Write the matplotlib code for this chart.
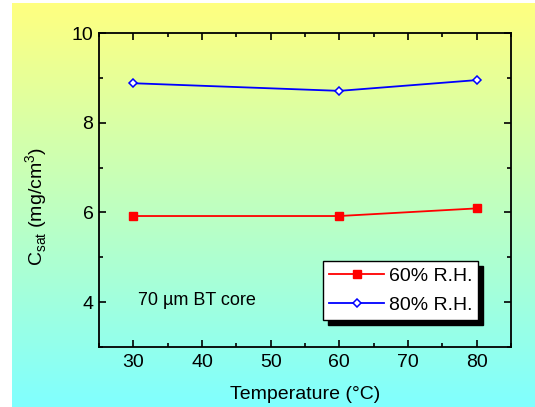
import numpy as np
import matplotlib
matplotlib.use("Agg")
import matplotlib.pyplot as plt
from matplotlib.ticker import MultipleLocator

plt.rcParams['font.family'] = ['Liberation Sans', 'DejaVu Sans']

temperature = [30, 60, 80]
rh60 = [5.92, 5.92, 6.09]
rh80 = [8.88, 8.71, 8.95]
series_labels = ["60% R.H.", "80% R.H."]
annotation = "70 µm BT core"

W, H = 535, 407
fig = plt.figure(figsize=(W / 100, H / 100), dpi=100)

# gradient background
bg = fig.add_axes([12 / W, 0, 1 - 12 / W, 1 - 3 / H], zorder=-10)
top = np.array([255, 255, 128]) / 255
bot = np.array([128, 255, 255]) / 255
t = np.linspace(0, 1, 256)[:, None]
grad = (top[None, :] * (1 - t) + bot[None, :] * t)[:, None, :]
bg.imshow(grad, aspect='auto', extent=[0, 1, 0, 1], origin='upper')
bg.set_axis_off()

ax = fig.add_axes([99 / W, 1 - 347 / H, (511 - 99) / W, (347 - 33) / H])
ax.set_facecolor('none')

ax.plot(temperature, rh60, color='red', lw=1.3, marker='s', ms=5.5,
        mfc='red', mec='red', label=series_labels[0])
ax.plot(temperature, rh80, color='blue', lw=1.3, marker='D', ms=4.5,
        mfc='white', mec='blue', mew=1.1, label=series_labels[1])

ax.set_xlim(25, 85)
ax.set_ylim(3, 10)
ax.xaxis.set_major_locator(MultipleLocator(10))
ax.xaxis.set_minor_locator(MultipleLocator(5))
ax.yaxis.set_major_locator(MultipleLocator(2))
ax.yaxis.set_minor_locator(MultipleLocator(1))
ax.tick_params(which='both', direction='in', top=True, right=True, width=1.2,
               labelsize=14)
ax.tick_params(which='major', length=5)
ax.tick_params(which='minor', length=3)
ax.tick_params(axis='y', which='major', pad=4)
ax.tick_params(axis='x', which='major', pad=5)
for s in ax.spines.values():
    s.set_linewidth(1.3)

ax.set_xlabel("Temperature (°C)", fontsize=14, labelpad=11)
ax.set_ylabel("C$_{\\mathregular{sat}}$ (mg/cm$^{\\mathregular{3}}$)", fontsize=14)
ax.yaxis.set_label_coords(-0.12, 0.446)

ax.text(30.7, 4.04, annotation, fontsize=13, ha='left', va='center')

leg = ax.legend(loc='lower left', bbox_to_anchor=(323 / W, 1 - 320 / H),
                bbox_transform=fig.transFigure, fontsize=14, fancybox=False,
                framealpha=1, edgecolor='black', handlelength=2.85,
                handletextpad=0.25, labelspacing=0.6, borderpad=0.3,
                borderaxespad=0,
                shadow={'color': 'black', 'alpha': 1, 'ox': 3.5, 'oy': -3.5})
leg.get_frame().set_linewidth(1.0)

fig.savefig("out.png", dpi=100)
